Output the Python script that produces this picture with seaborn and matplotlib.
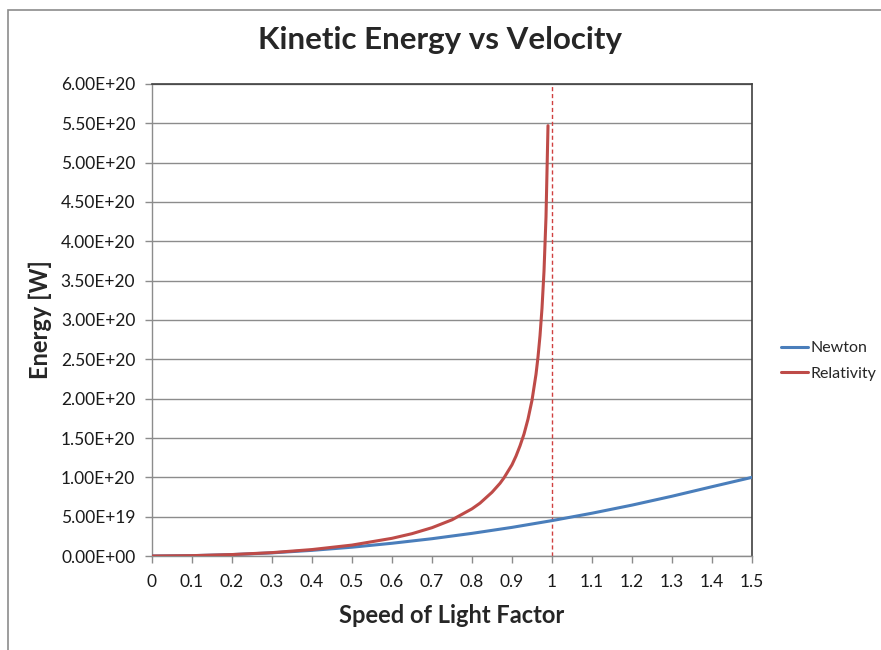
import numpy as np
import pandas as pd
import matplotlib
matplotlib.use('Agg')
import matplotlib.pyplot as plt
import seaborn as sns
from matplotlib.ticker import FuncFormatter, MultipleLocator
from matplotlib.patches import Rectangle

# values
newton_v = [0, 0.1, 0.2, 0.3, 0.4, 0.5, 0.6, 0.7, 0.8, 0.9, 1.0, 1.1, 1.2, 1.3, 1.4, 1.5]
newton_e = [0, 4.5e17, 1.8e18, 4.0e18, 7.2e18, 1.12e19, 1.62e19, 2.2e19, 2.88e19,
            3.64e19, 4.5e19, 5.44e19, 6.47e19, 7.6e19, 8.81e19, 1.0e20]

rel_v = [0, 0.1, 0.2, 0.3, 0.4, 0.5, 0.6, 0.65, 0.7, 0.75, 0.8, 0.82, 0.85, 0.87,
         0.88, 0.9, 0.91, 0.92, 0.93, 0.94, 0.95, 0.96, 0.965, 0.97, 0.975,
         0.98, 0.985, 0.99]
rel_e = [0, 4.5e17, 1.85e18, 4.3e18, 8.2e18, 1.39e19, 2.25e19, 2.84e19, 3.6e19,
         4.6e19, 6.0e19, 6.72e19, 8.1e19, 9.24e19, 9.94e19, 1.16e20, 1.27e20,
         1.4e20, 1.55e20, 1.74e20, 1.98e20, 2.31e20, 2.53e20, 2.8e20, 3.15e20,
         3.62e20, 4.31e20, 5.47e20]

df = pd.concat([
    pd.DataFrame({'v': newton_v, 'E': newton_e, 'series': 'Newton'}),
    pd.DataFrame({'v': rel_v, 'E': rel_e, 'series': 'Relativity'}),
])

sns.set_style('white')
plt.rcParams['font.family'] = ['Lato', 'DejaVu Sans']

fig = plt.figure(figsize=(8.81, 6.5), dpi=100)
ax = fig.add_axes([0.1725, 0.1446, 0.6811, 0.7262])

# outer chart border
fig.patches.append(Rectangle((8 / 881, -0.1), 1.2, 1 - 10 / 650 + 0.1,
                             transform=fig.transFigure, fill=False,
                             edgecolor='#8c8c8c', linewidth=1.2))

palette = {'Newton': '#4a7ebb', 'Relativity': '#be4b48'}
sns.lineplot(data=df, x='v', y='E', hue='series', palette=palette,
             linewidth=2.2, ax=ax, legend=False, zorder=3)

ax.axvline(1.0, color='#d04040', linestyle=(0, (3, 2)), linewidth=1.0, zorder=2)

ax.set_xlim(0, 1.5)
ax.set_ylim(0, 6e20)
ax.xaxis.set_major_locator(MultipleLocator(0.1))
ax.yaxis.set_major_locator(MultipleLocator(5e19))
ax.xaxis.set_major_formatter(FuncFormatter(lambda v, p: f'{v:.1f}'.rstrip('0').rstrip('.') if v else '0'))
ax.yaxis.set_major_formatter(FuncFormatter(lambda v, p: f'{v:.2E}'))

ax.grid(axis='y', color='#8c8c8c', linewidth=1.0)
ax.grid(axis='x', visible=False)
ax.tick_params(axis='both', direction='out', length=5, width=1, color='#8c8c8c',
               labelsize=12.5, labelcolor='#1a1a1a', bottom=True, left=True)
ax.tick_params(axis='x', pad=8)
ax.tick_params(axis='y', pad=7)

for side in ['left', 'bottom']:
    ax.spines[side].set_color('#8c8c8c')
    ax.spines[side].set_linewidth(1.0)
for side in ['top', 'right']:
    ax.spines[side].set_color('#404040')
    ax.spines[side].set_linewidth(1.2)

ax.set_xlabel('Speed of Light Factor', fontsize=17, fontweight='bold', labelpad=10)
ax.set_ylabel('Energy [W]', fontsize=17, fontweight='bold', labelpad=6)
fig.suptitle('Kinetic Energy vs Velocity', fontsize=22.5, fontweight='bold', y=0.96)

handles = [plt.Line2D([], [], color=palette[s], linewidth=2.2) for s in ['Newton', 'Relativity']]
fig.legend(handles, ['Newton', 'Relativity'], loc='center left',
           bbox_to_anchor=(0.886, 0.445), frameon=False, fontsize=11.5,
           handlelength=1.7, handletextpad=0.15, labelspacing=0.7,
           borderpad=0, borderaxespad=0)

fig.savefig('out.png', dpi=100, facecolor='white')
